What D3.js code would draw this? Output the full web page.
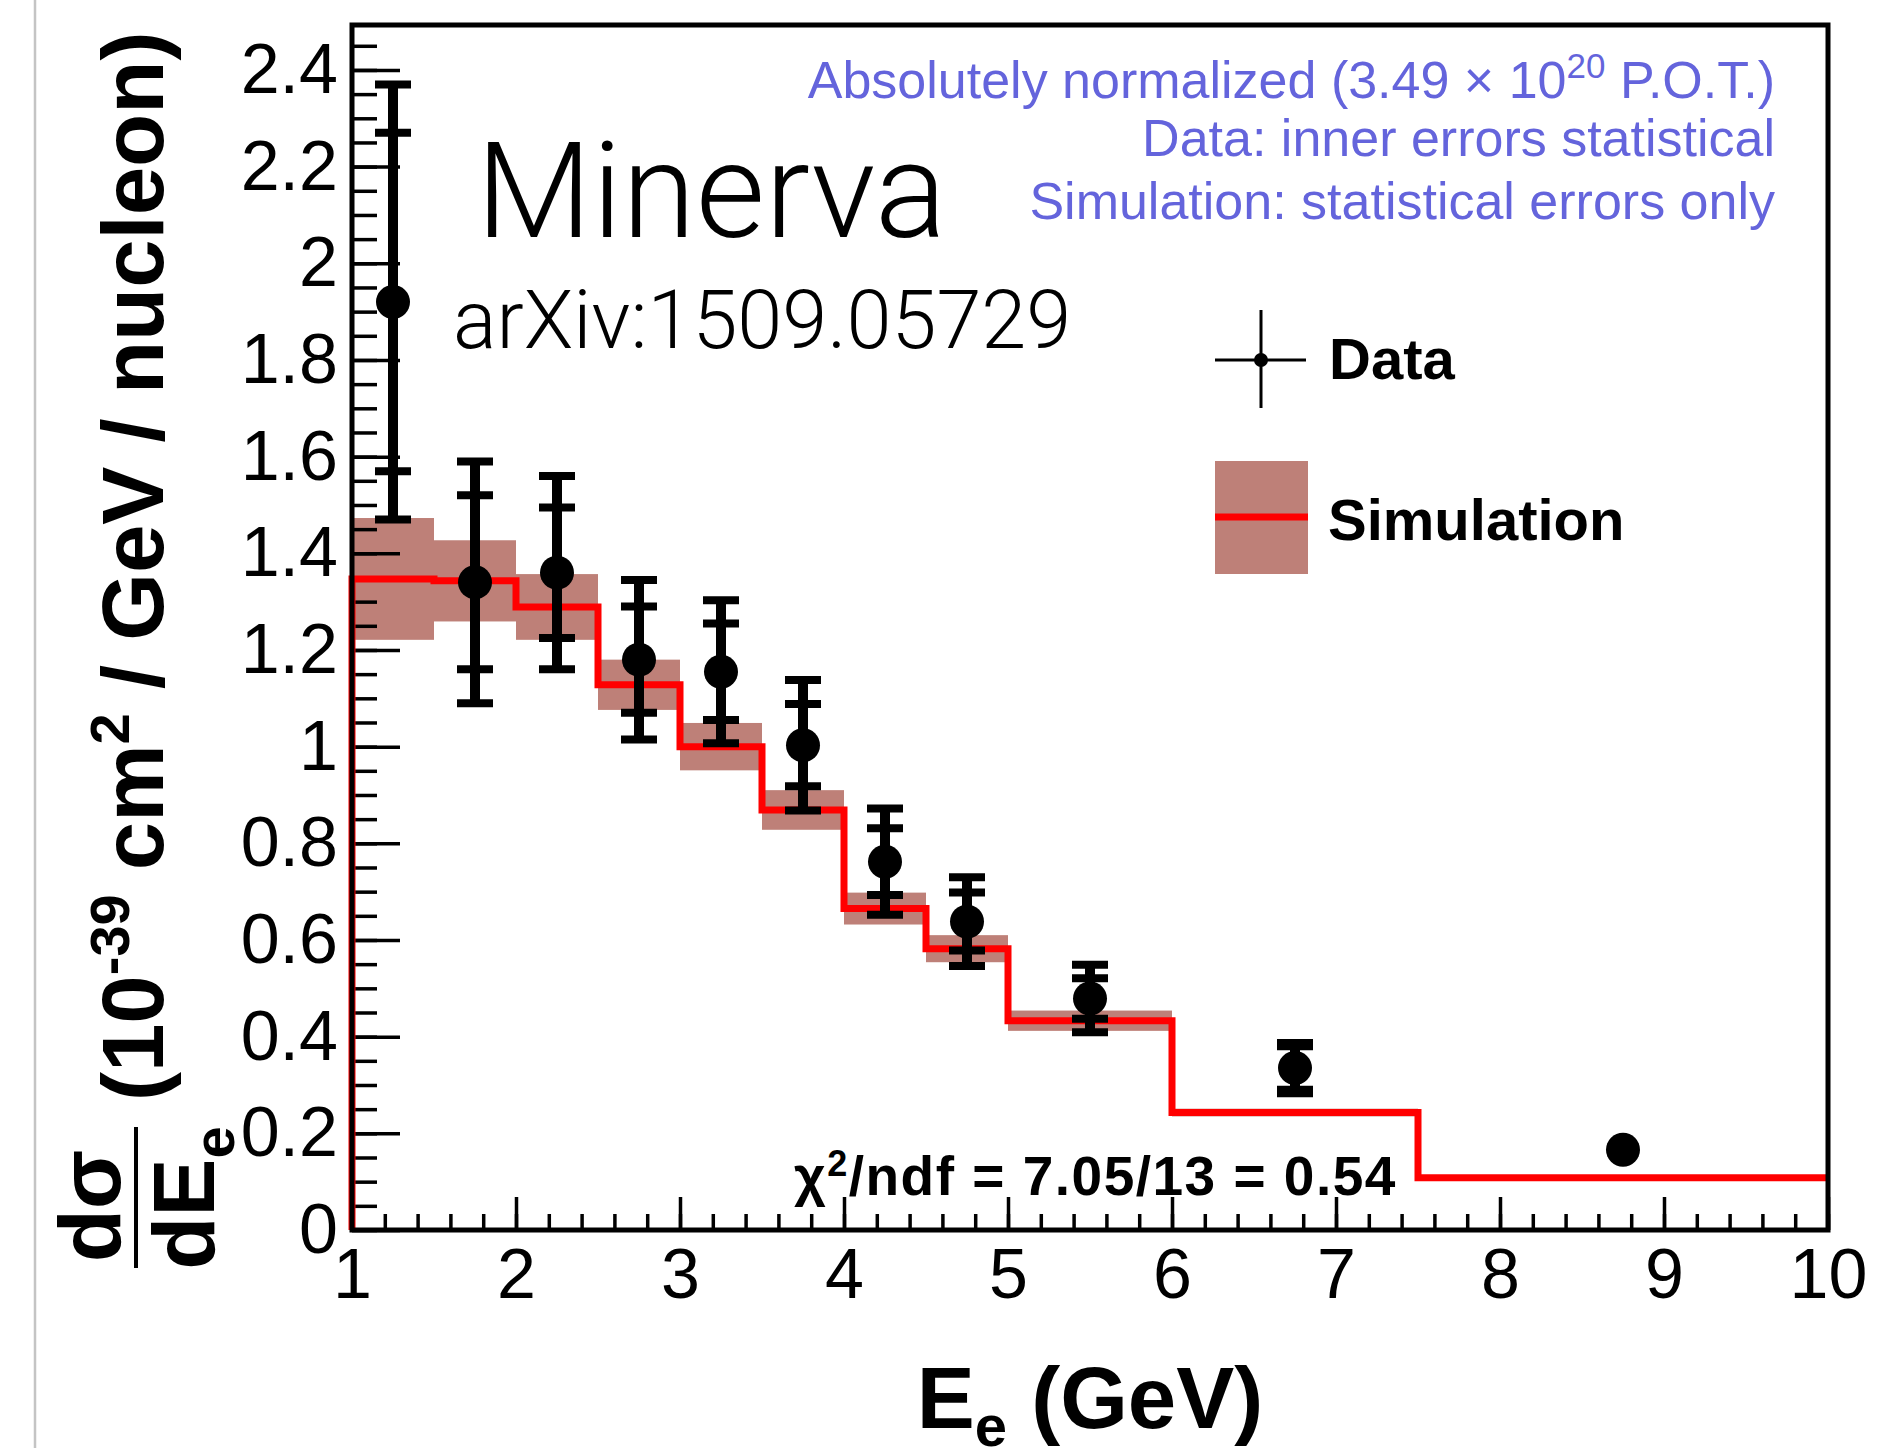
<!DOCTYPE html>
<html>
<head>
<meta charset="utf-8">
<script src="https://cdn.jsdelivr.net/npm/d3@7"></script>
<style>
  html, body { margin: 0; padding: 0; background: #fff; }
  svg { display: block; }
</style>
</head>
<body>
<div id="chart"></div>
<script>
// Electron energy spectrum: MINERvA data vs. simulation
const binEdges   = [1, 1.5, 2, 2.5, 3, 3.5, 4, 4.5, 5, 6, 7.5, 10];
const simValues  = [1.347, 1.343, 1.289, 1.128, 1.0, 0.869, 0.665, 0.582, 0.433, 0.243, 0.108];
const simErrors  = [0.126, 0.084, 0.068, 0.052, 0.049, 0.041, 0.033, 0.028, 0.021, 0.008, 0.005];

const dataX      = [1.25, 1.75, 2.25, 2.75, 3.25, 3.75, 4.25, 4.75, 5.5, 6.75, 8.75];
const dataY      = [1.92, 1.34, 1.36, 1.18, 1.155, 1.003, 0.762, 0.638, 0.479, 0.335, 0.166];
const statErrors = [0.35, 0.18, 0.135, 0.11, 0.10, 0.085, 0.069, 0.06, 0.042, 0.045, 0];
const totErrors  = [0.45, 0.25, 0.20, 0.165, 0.148, 0.135, 0.11, 0.092, 0.07, 0.052, 0];

const xTickValues = [1, 2, 3, 4, 5, 6, 7, 8, 9, 10];
const xTickLabels = ["1", "2", "3", "4", "5", "6", "7", "8", "9", "10"];
const yTickValues = [0, 0.2, 0.4, 0.6, 0.8, 1, 1.2, 1.4, 1.6, 1.8, 2, 2.2, 2.4];
const yTickLabels = ["0", "0.2", "0.4", "0.6", "0.8", "1", "1.2", "1.4", "1.6", "1.8", "2", "2.2", "2.4"];
const xMinorStep = 0.2;
const yMinorStep = 0.05;

const W = 1896, H = 1448;
const plotL = 352, plotR = 1828, plotT = 25, plotB = 1230;

const svg = d3.select("#chart").append("svg")
  .attr("width", W).attr("height", H)
  .attr("viewBox", `0 0 ${W} ${H}`);

const BAND = "#be8078";
const RED = "#ff0000";
const BLUE = "#6464dc";
const SANS = "'Liberation Sans', Arial, Helvetica, sans-serif";
const LIGHT = "Roboto, 'Open Sans', 'Liberation Sans', sans-serif";

// page edge rule on the left
svg.append("line")
  .attr("x1", 35).attr("x2", 35).attr("y1", 0).attr("y2", H)
  .attr("stroke", "#c4c4c4").attr("stroke-width", 2.5);

const x = d3.scaleLinear().domain([1, 10]).range([plotL, plotR]);
const y = d3.scaleLinear().domain([0, 2.493]).range([plotB, plotT]);

// simulation uncertainty band
svg.append("g").selectAll("rect")
  .data(simValues)
  .join("rect")
  .attr("x", (d, i) => x(binEdges[i]))
  .attr("width", (d, i) => x(binEdges[i + 1]) - x(binEdges[i]))
  .attr("y", (d, i) => y(d + simErrors[i]))
  .attr("height", (d, i) => y(d - simErrors[i]) - y(d + simErrors[i]))
  .attr("fill", BAND);

// axes: minor and major ticks point inward
const yMinor = d3.range(0, 2.46, yMinorStep);
const xMinor = d3.range(1, 10.001, xMinorStep);

const gyMinor = svg.append("g").attr("transform", `translate(${plotL},0)`)
  .call(d3.axisLeft(y).tickValues(yMinor).tickSizeInner(-25).tickSizeOuter(0).tickFormat(""));
const gyMajor = svg.append("g").attr("transform", `translate(${plotL},0)`)
  .call(d3.axisLeft(y).tickValues(yTickValues).tickSizeInner(-48).tickSizeOuter(0).tickPadding(14)
    .tickFormat((d, i) => yTickLabels[i]));
const gxMinor = svg.append("g").attr("transform", `translate(0,${plotB})`)
  .call(d3.axisBottom(x).tickValues(xMinor).tickSizeInner(-16).tickSizeOuter(0).tickFormat(""));
const gxMajor = svg.append("g").attr("transform", `translate(0,${plotB})`)
  .call(d3.axisBottom(x).tickValues(xTickValues).tickSizeInner(-33).tickSizeOuter(0).tickPadding(18)
    .tickFormat((d, i) => xTickLabels[i]));

[gyMinor, gyMajor, gxMinor, gxMajor].forEach(g => {
  g.select(".domain").remove();
  g.selectAll(".tick line").attr("stroke", "#000").attr("stroke-width", 3.5);
  g.selectAll(".tick text").attr("fill", "#000")
    .style("font-family", SANS).style("font-size", "70px");
});

// simulation histogram outline (starts from zero at the left edge)
const histPts = [[binEdges[0], 0]];
simValues.forEach((v, i) => {
  histPts.push([binEdges[i], v]);
  histPts.push([binEdges[i + 1], v]);
});
svg.append("path")
  .datum(histPts)
  .attr("d", d3.line().x(d => x(d[0])).y(d => y(d[1])))
  .attr("fill", "none").attr("stroke", RED).attr("stroke-width", 7)
  .attr("stroke-linejoin", "miter");

// frame
svg.append("rect")
  .attr("x", plotL).attr("y", plotT)
  .attr("width", plotR - plotL).attr("height", plotB - plotT)
  .attr("fill", "none").attr("stroke", "#000").attr("stroke-width", 5);

// data points with inner (stat) and outer (total) error bars
const capHalf = 18;
const pts = svg.append("g").selectAll("g")
  .data(dataY)
  .join("g");
pts.filter((d, i) => totErrors[i] > 0).append("line")
  .attr("x1", (d, i) => x(dataX[i])).attr("x2", (d, i) => x(dataX[i]))
  .attr("y1", (d, i) => y(d - totErrors[i])).attr("y2", (d, i) => y(d + totErrors[i]))
  .attr("stroke", "#000").attr("stroke-width", 10);
[statErrors, totErrors].forEach(errs => {
  [-1, 1].forEach(sgn => {
    pts.filter((d, i) => errs[i] > 0).append("line")
      .attr("x1", (d, i) => x(dataX[i]) - capHalf).attr("x2", (d, i) => x(dataX[i]) + capHalf)
      .attr("y1", (d, i) => y(d + sgn * errs[i])).attr("y2", (d, i) => y(d + sgn * errs[i]))
      .attr("stroke", "#000").attr("stroke-width", 8);
  });
});
pts.append("circle")
  .attr("cx", (d, i) => x(dataX[i])).attr("cy", d => y(d))
  .attr("r", 17).attr("fill", "#000");

// annotations
svg.append("text").attr("x", 476).attr("y", 237)
  .style("font-family", LIGHT).style("font-weight", 300).style("font-size", "134px")
  .attr("fill", "#000").text("Minerva");
svg.append("text").attr("x", 453).attr("y", 348)
  .style("font-family", LIGHT).style("font-weight", 300).style("font-size", "81px")
  .attr("fill", "#000").text("arXiv:1509.05729");

const info = svg.append("g").attr("fill", BLUE)
  .style("font-family", SANS).style("font-size", "52px").attr("text-anchor", "end");
const l1 = info.append("text").attr("x", 1775).attr("y", 98);
l1.append("tspan").text("Absolutely normalized (3.49 \u00d7 10");
l1.append("tspan").attr("dy", -20).style("font-size", "35px").text("20");
l1.append("tspan").attr("dy", 20).text(" P.O.T.)");
info.append("text").attr("x", 1775).attr("y", 156).text("Data: inner errors statistical");
info.append("text").attr("x", 1775).attr("y", 219).text("Simulation: statistical errors only");

// chi-square summary
const chi = svg.append("text").attr("x", 794).attr("y", 1195)
  .style("font-family", SANS).style("font-weight", "bold").style("font-size", "55px")
  .style("letter-spacing", "1.5px")
  .attr("fill", "#000");
chi.append("tspan").text("\u03c7");
chi.append("tspan").attr("dy", -19).style("font-size", "36px").text("2");
chi.append("tspan").attr("dy", 19).text("/ndf = 7.05/13 = 0.54");

// legend
const lg = svg.append("g");
lg.append("line").attr("x1", 1261).attr("x2", 1261).attr("y1", 310).attr("y2", 408)
  .attr("stroke", "#000").attr("stroke-width", 3);
lg.append("line").attr("x1", 1215).attr("x2", 1306).attr("y1", 360).attr("y2", 360)
  .attr("stroke", "#000").attr("stroke-width", 3);
lg.append("circle").attr("cx", 1261).attr("cy", 360).attr("r", 7).attr("fill", "#000");
lg.append("rect").attr("x", 1215).attr("y", 461).attr("width", 93).attr("height", 113).attr("fill", BAND);
lg.append("line").attr("x1", 1215).attr("x2", 1308).attr("y1", 517).attr("y2", 517)
  .attr("stroke", RED).attr("stroke-width", 7);
lg.append("text").attr("x", 1329).attr("y", 379)
  .style("font-family", SANS).style("font-weight", "bold").style("font-size", "58px").text("Data");
lg.append("text").attr("x", 1328).attr("y", 540)
  .style("font-family", SANS).style("font-weight", "bold").style("font-size", "58px").text("Simulation");

// x-axis title
const xt = svg.append("text").attr("x", (plotL + plotR) / 2).attr("y", 1428)
  .attr("text-anchor", "middle")
  .style("font-family", SANS).style("font-weight", "bold").style("font-size", "87px");
xt.append("tspan").text("E");
xt.append("tspan").attr("dy", 18).style("font-size", "58px").text("e");
xt.append("tspan").attr("dy", -18).text(" (GeV)");

// y-axis title (rotated)
const ytitle = svg.append("g")
  .style("font-family", SANS).style("font-weight", "bold").attr("fill", "#000");
const yt = ytitle.append("text")
  .attr("transform", "translate(163,1101) rotate(-90)")
  .style("font-size", "87px");
yt.append("tspan").text("(10");
yt.append("tspan").attr("dy", -34).style("font-size", "56px").text("-39");
yt.append("tspan").attr("dy", 34).text(" cm");
yt.append("tspan").attr("dy", -34).style("font-size", "56px").text("2");
yt.append("tspan").attr("dy", 34).text(" / GeV / nucleon)");

ytitle.append("text")
  .attr("transform", "translate(120,1206) rotate(-90)")
  .attr("text-anchor", "middle").style("font-size", "87px").text("d\u03c3");
const den = ytitle.append("text")
  .attr("transform", "translate(214,1198) rotate(-90)")
  .attr("text-anchor", "middle").style("font-size", "87px");
den.append("tspan").text("dE");
den.append("tspan").attr("dy", 20).style("font-size", "58px").text("e");
ytitle.append("line").attr("x1", 136).attr("x2", 136).attr("y1", 1127).attr("y2", 1268)
  .attr("stroke", "#000").attr("stroke-width", 4);
</script>
</body>
</html>
